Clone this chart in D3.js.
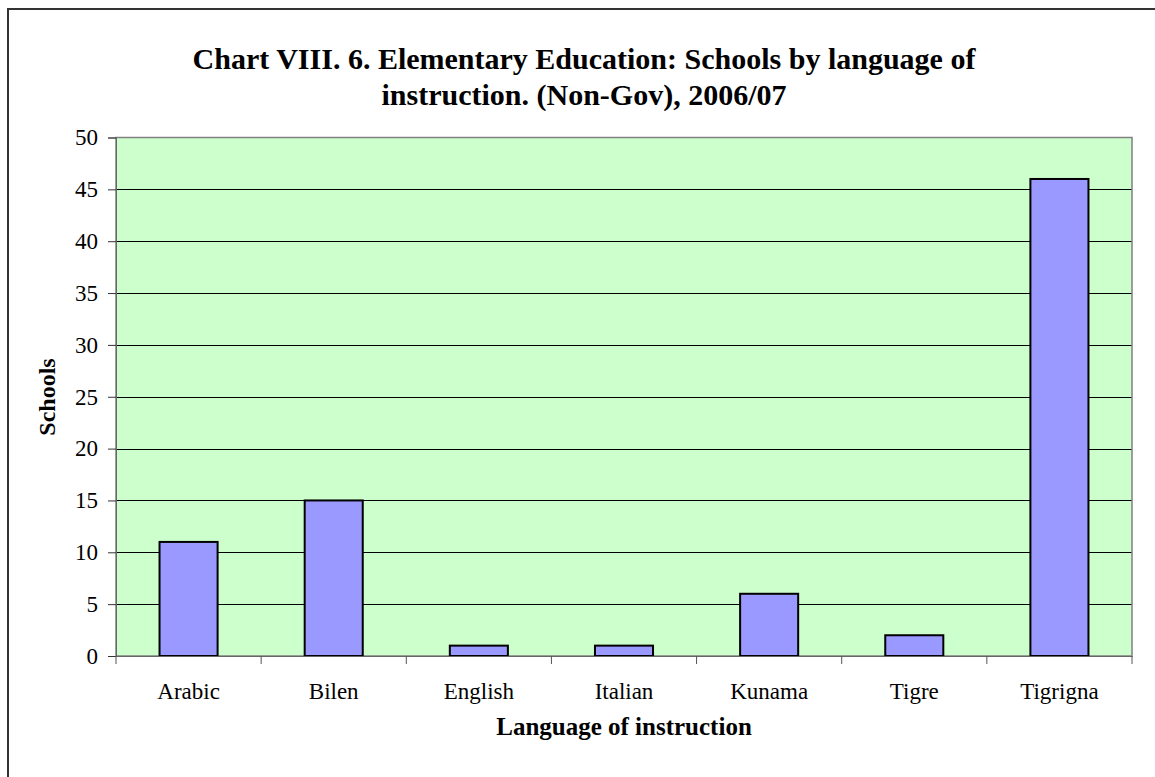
<!DOCTYPE html>
<html><head><meta charset="utf-8">
<script src="https://cdn.jsdelivr.net/npm/d3@7"></script>
<style>body{margin:0;background:#fff}svg{display:block}text{font-family:"Liberation Serif","Times New Roman",serif}</style>
</head><body>
<script>
const categories = ["Arabic","Bilen","English","Italian","Kunama","Tigre","Tigrigna"];
const values = [11,15,1,1,6,2,46];
const yTicks = [0,5,10,15,20,25,30,35,40,45,50];
const titleLines = ["Chart VIII. 6. Elementary Education: Schools by language of","instruction. (Non-Gov), 2006/07"];
const xTitle = "Language of instruction";
const yTitle = "Schools";

const W = 1155, H = 777;
const svg = d3.select("body").append("svg").attr("width", W).attr("height", H);
const L = 116, R = 1132, T = 137.5, B = 656;

// outer frame
svg.append("rect").attr("x", 8).attr("y", 9).attr("width", 1160).attr("height", 780)
  .attr("fill", "#fff").attr("stroke", "#333").attr("stroke-width", 2);

const x = d3.scaleBand().domain(categories).range([L, R]).paddingInner(0.6).paddingOuter(0.3);
const y = d3.scaleLinear().domain([0, 50]).range([B, T]);

svg.append("rect").attr("x", L).attr("y", T).attr("width", R - L).attr("height", B - T).attr("fill", "#CCFFCC");

// gridlines
svg.append("g").selectAll("line").data(yTicks.filter(d => d > 0 && d < 50)).join("line")
  .attr("x1", L).attr("x2", R).attr("y1", d => Math.round(y(d)) + 0.5).attr("y2", d => Math.round(y(d)) + 0.5)
  .attr("stroke", "#000").attr("stroke-width", 1);

// plot border
svg.append("rect").attr("x", L).attr("y", T).attr("width", R - L).attr("height", B - T)
  .attr("fill", "none").attr("stroke", "#808080").attr("stroke-width", 1.5);

// bars
svg.append("g").selectAll("rect").data(categories).join("rect")
  .attr("x", d => x(d)).attr("width", x.bandwidth())
  .attr("y", (d, i) => y(values[i])).attr("height", (d, i) => y(0) - y(values[i]))
  .attr("fill", "#9999FF").attr("stroke", "#000").attr("stroke-width", 2);

// y axis
const yAxis = d3.axisLeft(y).tickValues(yTicks).tickSize(8).tickPadding(10);
const ya = svg.append("g").attr("transform", `translate(${L},0)`).call(yAxis);
ya.select(".domain").attr("stroke", "#666");
ya.selectAll(".tick line").attr("stroke", "#333");
ya.selectAll("text").attr("font-size", 23).attr("fill", "#000");

// x axis
const xAxis = d3.axisBottom(x).tickSize(0).tickPadding(27);
const xa = svg.append("g").attr("transform", `translate(0,${B})`).call(xAxis);
xa.select(".domain").attr("stroke", "#666");
xa.selectAll("text").attr("font-size", 23).attr("fill", "#000");
const bounds = categories.map(c => x(c) - x.step() * x.paddingInner() / 2).concat([R]);
bounds[0] = L;
xa.append("g").selectAll("line").data(bounds).join("line")
  .attr("x1", d => d).attr("x2", d => d).attr("y1", 0).attr("y2", 8).attr("stroke", "#555");

// titles
svg.append("g").selectAll("text").data(titleLines).join("text")
  .attr("x", 584).attr("y", (d, i) => 69 + i * 35.5).attr("text-anchor", "middle")
  .attr("font-size", 30).attr("font-weight", "bold").text(d => d);

svg.append("text").attr("x", 624).attr("y", 735).attr("text-anchor", "middle")
  .attr("font-size", 25).attr("font-weight", "bold").text(xTitle);

svg.append("text").attr("transform", "translate(55,397) rotate(-90)").attr("text-anchor", "middle")
  .attr("font-size", 24).attr("font-weight", "bold").text(yTitle);
</script>
</body></html>
